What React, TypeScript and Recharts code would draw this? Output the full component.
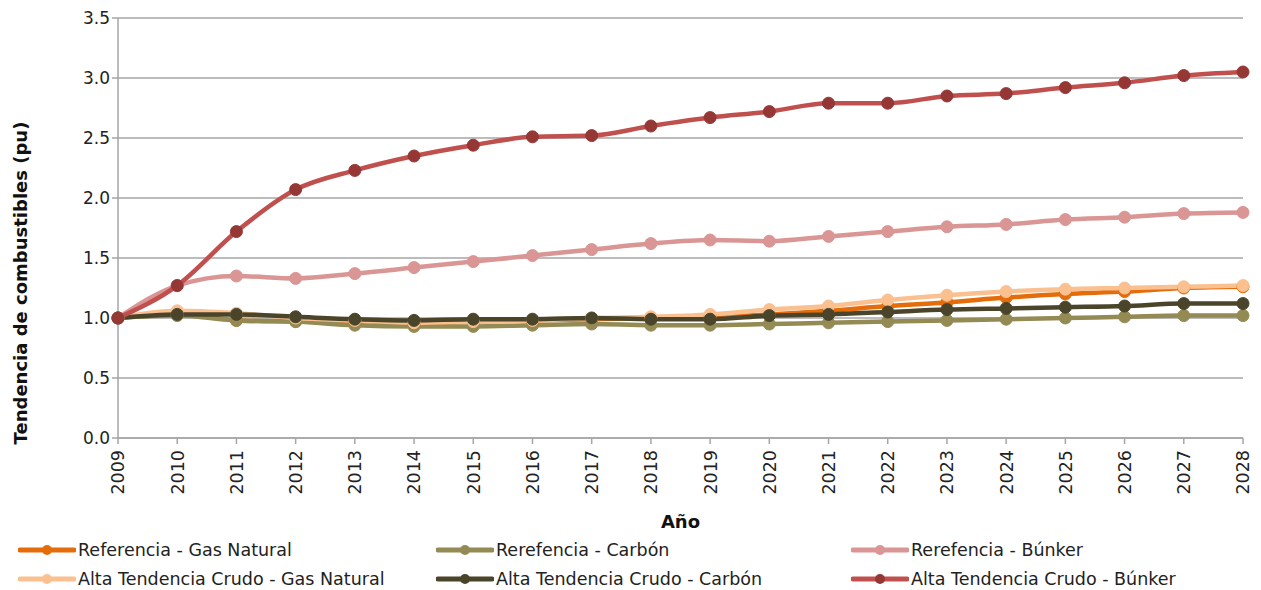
import { LineChart, Line, XAxis, YAxis, CartesianGrid, Label } from 'recharts';

const years = ['2009', '2010', '2011', '2012', '2013', '2014', '2015', '2016', '2017', '2018', '2019', '2020', '2021', '2022', '2023', '2024', '2025', '2026', '2027', '2028'];

const refGas = [1.0, 1.04, 0.98, 0.97, 0.96, 0.95, 0.97, 0.98, 0.99, 1.0, 1.01, 1.03, 1.06, 1.1, 1.13, 1.17, 1.2, 1.22, 1.25, 1.26];
const refCarbon = [1.0, 1.02, 0.98, 0.97, 0.94, 0.93, 0.93, 0.94, 0.95, 0.94, 0.94, 0.95, 0.96, 0.97, 0.98, 0.99, 1.0, 1.01, 1.02, 1.02];
const refBunker = [1.0, 1.27, 1.35, 1.33, 1.37, 1.42, 1.47, 1.52, 1.57, 1.62, 1.65, 1.64, 1.68, 1.72, 1.76, 1.78, 1.82, 1.84, 1.87, 1.88];
const altaGas = [1.0, 1.06, 1.04, 1.0, 0.98, 0.96, 0.97, 0.98, 1.0, 1.01, 1.03, 1.07, 1.1, 1.15, 1.19, 1.22, 1.24, 1.25, 1.26, 1.27];
const altaCarbon = [1.0, 1.03, 1.03, 1.01, 0.99, 0.98, 0.99, 0.99, 1.0, 0.99, 0.99, 1.02, 1.03, 1.05, 1.07, 1.08, 1.09, 1.1, 1.12, 1.12];
const altaBunker = [1.0, 1.27, 1.72, 2.07, 2.23, 2.35, 2.44, 2.51, 2.52, 2.6, 2.67, 2.72, 2.79, 2.79, 2.85, 2.87, 2.92, 2.96, 3.02, 3.05];

const yTicks = [0, 0.5, 1, 1.5, 2, 2.5, 3, 3.5];

const series = [
  { key: 'refGas', name: 'Referencia - Gas Natural', color: '#E46C0A', dot: '#E46C0A', values: refGas },
  { key: 'refCarbon', name: 'Rerefencia - Carbón', color: '#948A54', dot: '#948A54', values: refCarbon },
  { key: 'refBunker', name: 'Rerefencia - Búnker', color: '#D99694', dot: '#D99694', values: refBunker },
  { key: 'altaGas', name: 'Alta Tendencia Crudo - Gas Natural', color: '#FAC090', dot: '#FAC090', values: altaGas },
  { key: 'altaCarbon', name: 'Alta Tendencia Crudo - Carbón', color: '#4A452A', dot: '#4A452A', values: altaCarbon },
  { key: 'altaBunker', name: 'Alta Tendencia Crudo - Búnker', color: '#C0504D', dot: '#953735', values: altaBunker },
];

const data = years.map((year, i) => {
  const row: any = { year };
  series.forEach((s) => {
    row[s.key] = s.values[i];
  });
  return row;
});

const font = '"DejaVu Sans", sans-serif';

// legend laid out in 3 columns, 2 rows like the original
const ChartLegend = () => {
  const colX = [18, 436, 851];
  return (
    <div style={{ position: 'absolute', left: 0, top: 538, width: 1261, height: 52, fontFamily: font, fontSize: 17.5, color: '#222' }}>
      {series.map((s, i) => (
        <div
          key={s.key}
          style={{
            position: 'absolute',
            left: colX[i % 3],
            top: i < 3 ? 2 : 31,
            display: 'flex',
            alignItems: 'center',
            whiteSpace: 'nowrap',
          }}
        >
          <svg width={58} height={14} style={{ marginRight: 2 }}>
            <line x1={2} y1={7} x2={56} y2={7} stroke={s.color} strokeWidth={5} strokeLinecap="round" />
            <circle cx={29} cy={7} r={5} fill={s.dot} />
          </svg>
          <span>{s.name}</span>
        </div>
      ))}
    </div>
  );
};

export default function App() {
  return (
    <div style={{ position: 'absolute', left: 0, top: 0, width: 1261, height: 590, background: '#fff' }}>
      <LineChart width={1261} height={590} data={data} margin={{ top: 18, right: 18, left: 0, bottom: 52 }}>
        <CartesianGrid vertical={false} stroke="#A6A6A6" strokeWidth={1.3} />
        <XAxis
          dataKey="year"
          stroke="#A6A6A6"
          strokeWidth={1.5}
          tickSize={6}
          interval={0}
          height={100}
          angle={-90}
          textAnchor="end"
          dx={-6}
          dy={4}
          tick={{ fill: '#222', fontSize: 17.5, fontFamily: font }}
        >
          <Label value="Año" position="insideBottom" offset={10} style={{ fill: '#111', fontSize: 18, fontWeight: 700, fontFamily: font }} />
        </XAxis>
        <YAxis
          domain={[0, 3.5]}
          ticks={yTicks}
          tickFormatter={(v: number) => v.toFixed(1)}
          stroke="#A6A6A6"
          strokeWidth={1.5}
          tickSize={6}
          width={118}
          tick={{ fill: '#222', fontSize: 17, fontFamily: font }}
        />
        {series.map((s) => (
          <Line
            key={s.key}
            type="monotone"
            dataKey={s.key}
            name={s.name}
            stroke={s.color}
            strokeWidth={4.5}
            dot={{ r: 6, fill: s.dot, stroke: s.dot, strokeWidth: 1 }}
            isAnimationActive={false}
          />
        ))}
      </LineChart>
      <div
        style={{
          position: 'absolute',
          left: 20,
          top: 283,
          transform: 'translate(-50%, -50%) rotate(-90deg)',
          whiteSpace: 'nowrap',
          fontFamily: font,
          fontSize: 18,
          fontWeight: 700,
          color: '#111',
        }}
      >
        Tendencia de combustibles (pu)
      </div>
      <ChartLegend />
    </div>
  );
}
